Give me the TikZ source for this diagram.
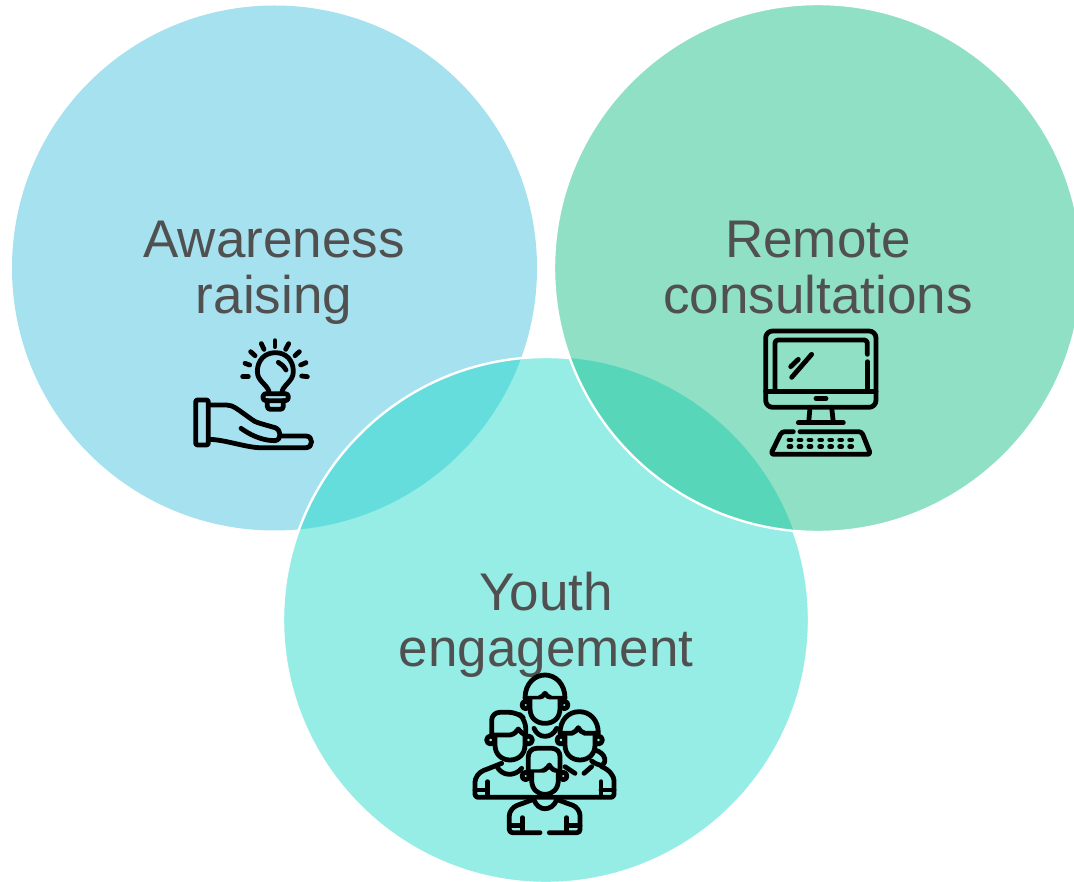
\documentclass[tikz,border=0pt]{standalone}
\usepackage{fontspec}
\setmainfont{Liberation Sans}
\definecolor{cA}{HTML}{A6E1EF}
\definecolor{cB}{HTML}{90E0C6}
\definecolor{cC}{HTML}{95EDE6}
\definecolor{cAC}{HTML}{66DDDD}
\definecolor{cBC}{HTML}{58D6B9}
\definecolor{txt}{HTML}{505050}
\tikzset{
  lbl/.style={text=txt,font=\fontsize{53}{56}\selectfont,align=center,inner sep=0pt},
  ico/.style={line width=4.8pt,line cap=round,line join=round,draw=black},
  ring/.style={draw=white,line width=2.4pt}
}
\newcommand{\circA}{(274.5,268) circle[radius=262.5]}
\newcommand{\circB}{(818,268) circle[radius=264]}
\newcommand{\circC}{(546,620) circle[radius=263]}
\begin{document}
\begin{tikzpicture}[x=1pt,y=-1pt]
\useasboundingbox (0,0) rectangle (1074,882);
\clip (0,0) rectangle (1074,882);
\fill[cA] \circA;
\fill[cC] \circC;
\begin{scope}\clip \circA; \fill[cAC] \circC; \end{scope}
\draw[ring] \circC;
\fill[cB] \circB;
\begin{scope}\clip \circB; \fill[cBC] \circC; \end{scope}
\draw[ring] \circB;
\node[lbl] (a) at (274,273) {Awareness\\raising};
\node[lbl] (b) at (818,268) {Remote\\consultations};
\node[lbl] (c) at (546,625) {Youth\\engagement};
% hand and bulb
\begin{scope}[shift={(180,330)},scale=1/3,ico]
\draw[rounded corners=2pt] (47,210) rectangle (85,345);
\draw (85,225) -- (140,225) .. controls (160,225) and (175,240) .. (215,268) .. controls (225,277) and (240,280) .. (285,293) .. controls (305,300) and (305,330) .. (285,332) .. controls (260,332) and (225,325) .. (183,295);
\draw (300,318) -- (378,318) .. controls (400,318) and (400,353) .. (378,353) -- (235,353) .. controls (190,350) and (130,328) .. (85,328);
\draw (268,190) .. controls (266,165) and (232,155) .. (232,125) .. controls (232,90) and (255,68) .. (286,68) .. controls (318,68) and (340,90) .. (340,125) .. controls (340,155) and (307,165) .. (305,190);
\draw[rounded corners=3pt] (249,191) rectangle (325,212);
\draw[rounded corners=3pt] (262,212) -- (262,238) -- (310,238) -- (310,212);
\draw (295,97) .. controls (305,102) and (312,110) .. (318,120);
\draw (195,100) -- (209,105);
\draw (188,140) -- (205,140);
\draw (212,65) -- (225,77);
\draw (244,41) -- (252,58);
\draw (285,32) -- (285,50);
\draw (326,41) -- (317,58);
\draw (358,65) -- (345,77);
\draw (378,98) -- (362,105);
\draw (365,138) -- (382,140);
\end{scope}
% computer
\begin{scope}[shift={(750,320)},scale=1/3,ico]
\draw[rounded corners=7pt] (47,33) rectangle (378,262);
\draw (47,215) -- (378,215);
\draw[rounded corners=3pt] (75,215) -- (75,60) -- (352,60) -- (352,103);
\draw (352,125) -- (352,215);
\draw (198,235) -- (228,235);
\draw (180,262) -- (176,308);
\draw (245,262) -- (250,308);
\draw (145,308) -- (280,308);
\draw[rounded corners=3pt] (130,335) -- (95,335) -- (62,403) -- (362,403) -- (335,335) -- (150,335);
\draw (122,140) -- (145,118);
\draw (125,172) -- (185,103);
\foreach \yy in {360,380}{\foreach \xx in {120,150,180,212,242,272,302}{\draw (\xx-3,\yy) -- (\xx+3,\yy);}}
\end{scope}
% people
\begin{scope}[shift={(460,665)},scale=1/3,ico]
% top person
\draw (197,120) circle[radius=11];
\draw (313,120) circle[radius=11];
\draw (195,100) .. controls (195,55) and (225,30) .. (255,30) .. controls (285,30) and (315,55) .. (315,100) -- (275,100) .. controls (265,98) and (260,90) .. (255,85) .. controls (250,90) and (245,98) .. (235,100) -- cycle;
\draw[fill=cC] (210,103) -- (210,130) .. controls (210,160) and (230,175) .. (255,175) .. controls (280,175) and (300,160) .. (300,130) -- (300,103);
\draw (222,190) .. controls (235,222) and (275,222) .. (290,190);
% left person
\draw (92,225) circle[radius=12];
\draw (205,225) circle[radius=12];
\draw[fill=cC] (105,213) -- (105,240) .. controls (105,268) and (125,285) .. (150,285) .. controls (175,285) and (195,268) .. (195,240) -- (195,213);
\draw[rounded corners=8pt] (95,210) -- (95,142) -- (172,142) -- (197,165) -- (197,205);
\draw (95,210) -- (150,210) .. controls (162,208) and (170,200) .. (175,192) .. controls (180,200) and (190,208) .. (197,210);
\draw (110,303) .. controls (125,335) and (165,335) .. (185,310);
\draw[rounded corners=3pt] (125,295) -- (80,313) .. controls (55,322) and (45,340) .. (45,360) -- (45,397) -- (462,397) -- (462,355) .. controls (462,335) and (450,315) .. (425,305);
\draw (83,350) -- (83,395);
\draw (45,375) -- (83,375);
% right person
\draw (303,225) circle[radius=12];
\draw (415,225) circle[radius=12];
\draw (300,205) .. controls (300,165) and (325,140) .. (358,140) .. controls (390,140) and (415,165) .. (415,205) -- (375,205) .. controls (365,203) and (358,195) .. (355,188) .. controls (350,195) and (345,203) .. (335,205) -- cycle;
\draw[fill=cC] (315,213) -- (315,240) .. controls (315,268) and (335,285) .. (360,285) .. controls (385,285) and (405,268) .. (405,240) -- (405,213);
\draw (405,255) .. controls (440,265) and (440,295) .. (425,302) .. controls (415,300) and (405,295) .. (395,288);
\draw (315,305) -- (345,325);
\draw (372,325) -- (395,305);
\draw (423,350) -- (423,395);
\draw (423,375) -- (462,375);
% front person
\draw[fill=cC,draw=none] (205,320) -- (205,250) -- (300,250) -- (300,320) -- (295,388) -- (215,388) -- cycle;
\draw (197,333) circle[radius=11];
\draw (310,333) circle[radius=11];
\draw[rounded corners=8pt] (205,320) -- (205,250) -- (300,250) -- (300,320);
\draw (205,320) -- (240,320) .. controls (252,318) and (262,310) .. (268,300) .. controls (272,310) and (282,318) .. (300,320);
\draw[fill=cC] (215,323) -- (215,345) .. controls (215,372) and (232,388) .. (255,388) .. controls (278,388) and (295,372) .. (295,345) -- (295,323);
\draw (222,405) .. controls (235,440) and (275,440) .. (290,405);
\draw[rounded corners=3pt] (215,405) -- (180,418) .. controls (160,425) and (148,440) .. (148,460) -- (148,503) -- (240,503);
\draw[rounded corners=3pt] (268,503) -- (360,503) -- (360,460) .. controls (360,440) and (350,425) .. (330,418) -- (295,405);
\draw (187,458) -- (187,500);
\draw (148,482) -- (187,482);
\draw (320,458) -- (320,500);
\draw (320,482) -- (360,482);
\end{scope}
\end{tikzpicture}
\end{document}
